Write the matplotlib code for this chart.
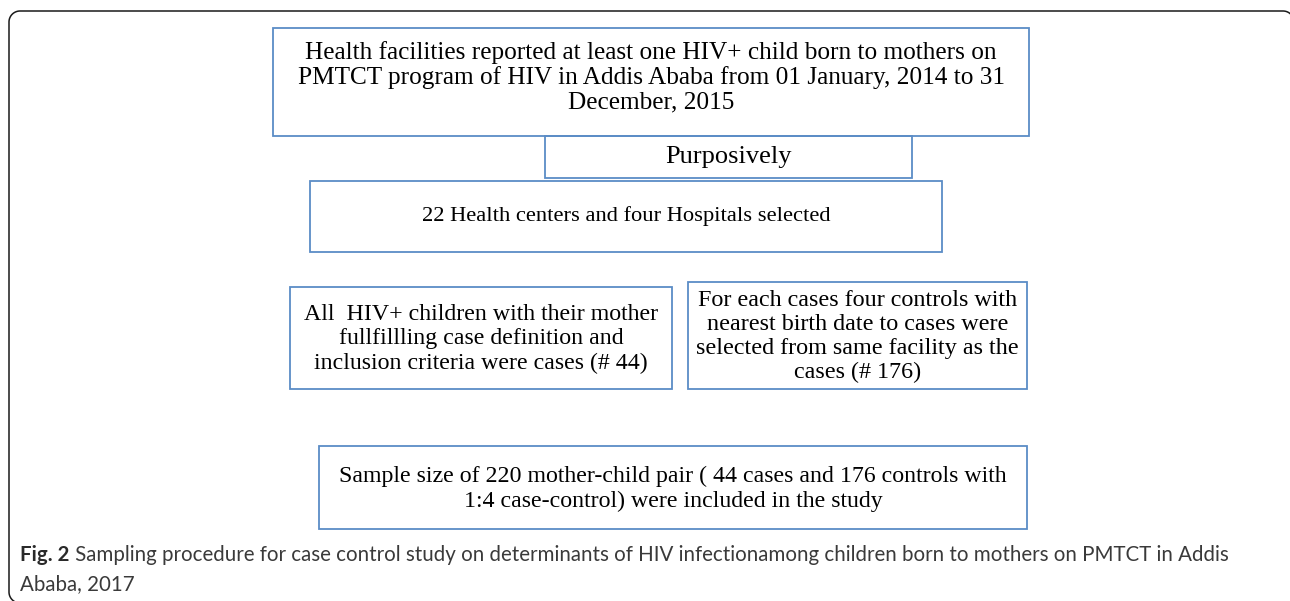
import matplotlib
matplotlib.use("Agg")
import numpy as np
import matplotlib.pyplot as plt
from matplotlib.patches import Rectangle

# box texts, top to bottom
step_texts = [
    "Health facilities reported at least one HIV+ child born to mothers on\n"
    "PMTCT program of HIV in Addis Ababa from 01 January, 2014 to 31\n"
    "December, 2015",
    "Purposively",
    "22 Health centers and four Hospitals selected",
    "All  HIV+ children with their mother\n"
    "fullfillling case definition and\n"
    "inclusion criteria were cases (# 44)",
    "For each cases four controls with\n"
    "nearest birth date to cases were\n"
    "selected from same facility as the\n"
    "cases (# 176)",
    "Sample size of 220 mother-child pair ( 44 cases and 176 controls with\n"
    "1:4 case-control) were included in the study",
]
caption_label = "Fig. 2"
caption_text = (" Sampling procedure for case control study on determinants of HIV "
                "infectionamong children born to mothers on PMTCT in Addis")
caption_text2 = "Ababa, 2017"

# layout in pixels: box (x0, y0, x1, y1), text centre y, font size, line spacing
box_layout = [
    (273, 28, 1029, 136),
    (545, 136, 912, 178),
    (310, 181, 942, 252),
    (290, 287, 672, 389),
    (688, 282, 1027, 389),
    (319, 446, 1027, 529),
]
text_y = [77, 157.5, 216.5, 339, 336.5, 489]
text_size = [18.2, 19, 16.2, 17.2, 17.4, 17.2]
text_spacing = [1.12, 1.2, 1.2, 1.2, 1.2, 1.2]

W, H = 1290, 601
fig = plt.figure(figsize=(W / 100, H / 100), dpi=100)
ax = fig.add_axes([0, 0, 1, 1])
ax.set_xlim(0, W)
ax.set_ylim(H, 0)
ax.axis("off")

# outer frame: rounded corners, right side and bottom run off the picture
fl, ft, fr, fb, r = 9, 11, 1294, 603, 11
t = np.linspace(0, np.pi / 2, 20)
fx = np.concatenate([[300], fl + r - r * np.sin(t), fl + r - r * np.cos(t),
                     fr - r + r * np.sin(t), [fr]])
fy = np.concatenate([[fb], fb - r + r * np.cos(t), ft + r - r * np.sin(t),
                     ft + r - r * np.cos(t), [fb]])
ax.plot(fx, fy, color="#1a1a1a", linewidth=1.1, solid_capstyle="butt")

blue = "#5b8cc6"
for txt, (x0, y0, x1, y1), ty, fs, ls in zip(step_texts, box_layout, text_y,
                                             text_size, text_spacing):
    ax.add_patch(Rectangle((x0, y0), x1 - x0, y1 - y0, fill=False,
                           edgecolor=blue, linewidth=1.3))
    ax.text((x0 + x1) / 2, ty, txt, ha="center", va="center", fontsize=fs,
            family="Liberation Serif", color="black", linespacing=ls)

# caption with bold label
cap_color = "#3a3a3a"
cap_fs = 14.8
lbl = ax.text(20, 555, caption_label, ha="left", va="center", fontsize=cap_fs,
              family="Lato", fontweight="bold", color="#2a2a2a")
fig.canvas.draw()
bb = lbl.get_window_extent()
x_after = ax.transData.inverted().transform((bb.x1, 0))[0]
ax.text(x_after, 555, caption_text, ha="left", va="center", fontsize=cap_fs,
        family="Lato", color=cap_color)
ax.text(20, 584, caption_text2, ha="left", va="center", fontsize=cap_fs,
        family="Lato", color=cap_color)

fig.savefig("out.png", dpi=100)
